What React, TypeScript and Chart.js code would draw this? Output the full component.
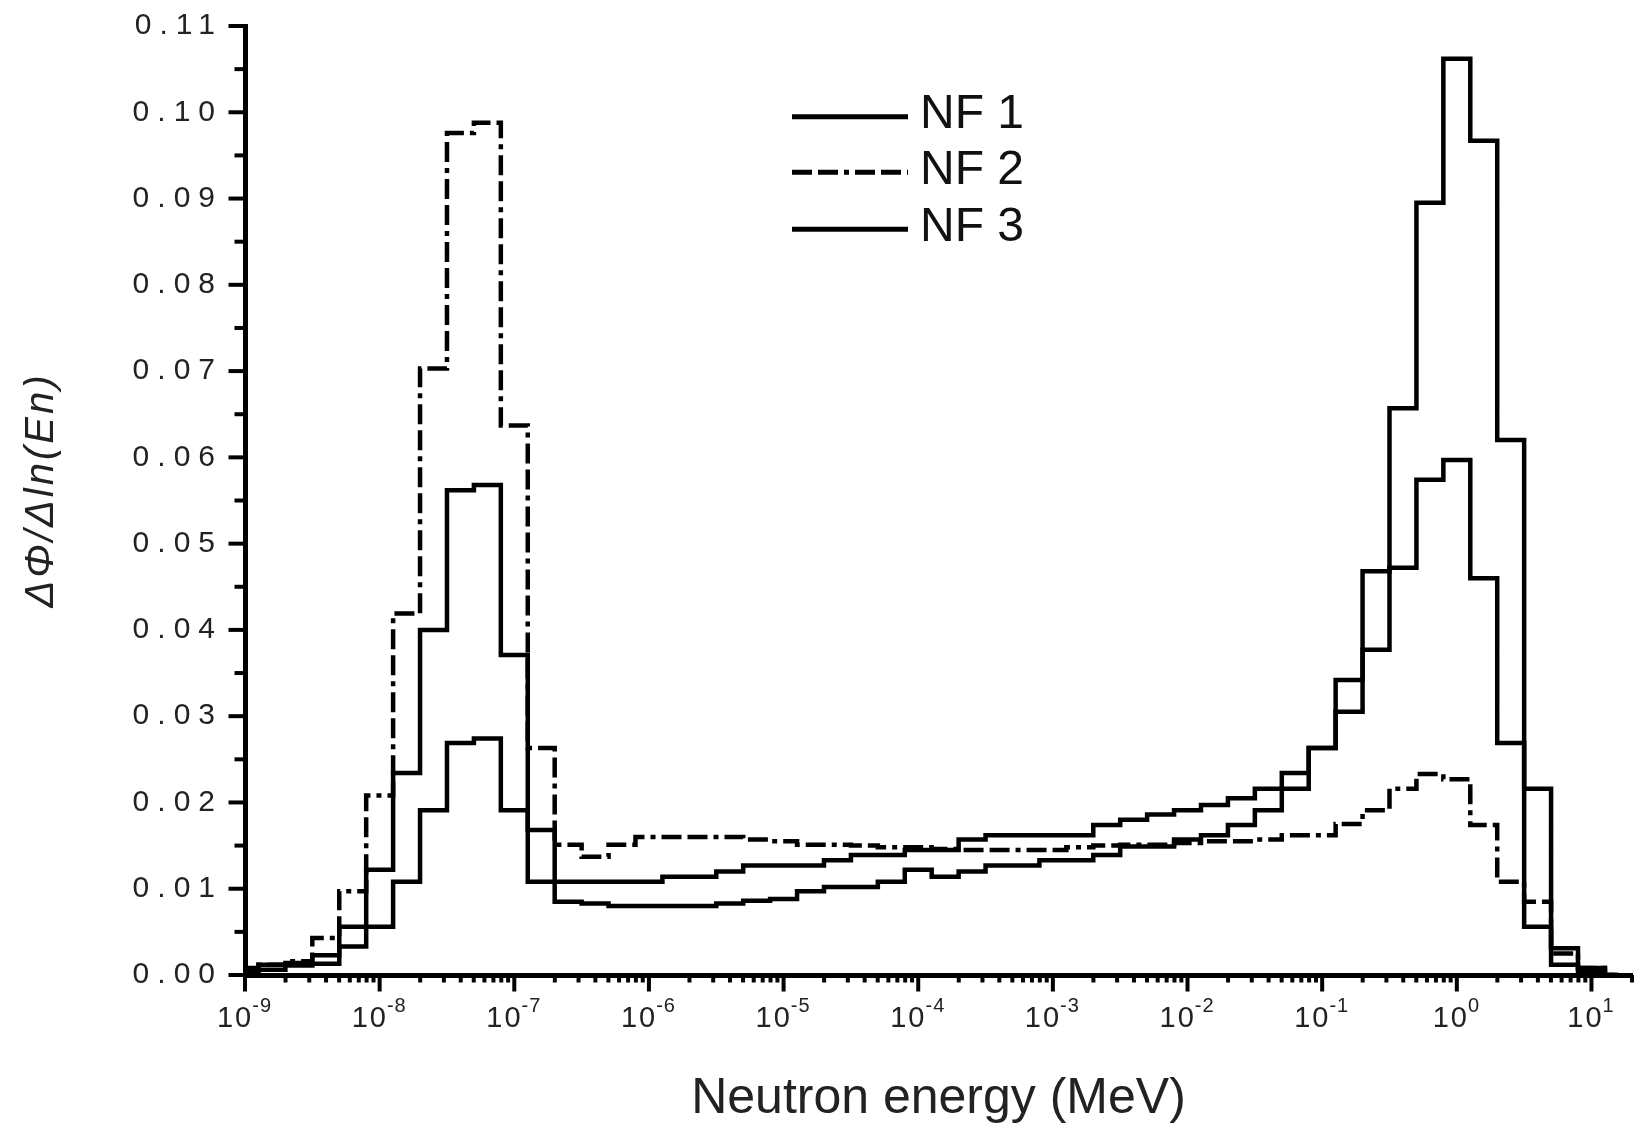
import { useEffect, useRef } from 'react';
import { Chart, registerables } from 'chart.js';

Chart.register(...registerables);

// Bin centres (MeV), 5 per decade
const ENERGY = [
  1e-9, 1.585e-9, 2.512e-9, 3.981e-9, 6.31e-9,
  1e-8, 1.585e-8, 2.512e-8, 3.981e-8, 6.31e-8,
  1e-7, 1.585e-7, 2.512e-7, 3.981e-7, 6.31e-7,
  1e-6, 1.585e-6, 2.512e-6, 3.981e-6, 6.31e-6,
  1e-5, 1.585e-5, 2.512e-5, 3.981e-5, 6.31e-5,
  1e-4, 1.585e-4, 2.512e-4, 3.981e-4, 6.31e-4,
  1e-3, 1.585e-3, 2.512e-3, 3.981e-3, 6.31e-3,
  1e-2, 1.585e-2, 2.512e-2, 3.981e-2, 6.31e-2,
  1e-1, 1.585e-1, 2.512e-1, 3.981e-1, 6.31e-1,
  1, 1.585, 2.512, 3.981, 6.31,
  10, 15.85,
];

const NF1 = [
  0.0005, 0.0012, 0.0014, 0.0023, 0.0056,
  0.0122, 0.0234, 0.0400, 0.0562, 0.0568,
  0.0371, 0.0108, 0.0108, 0.0108, 0.0108,
  0.0108, 0.0114, 0.0114, 0.0120, 0.0127,
  0.0127, 0.0127, 0.0133, 0.0139, 0.0139,
  0.0145, 0.0145, 0.0157, 0.0162, 0.0162,
  0.0162, 0.0162, 0.0174, 0.0180, 0.0186,
  0.0191, 0.0197, 0.0205, 0.0216, 0.0234,
  0.0263, 0.0342, 0.0468, 0.0657, 0.0895,
  0.1062, 0.0967, 0.0620, 0.0216, 0.0031,
  0.0008, 0,
];

const NF2 = [
  0.0008, 0.0012, 0.0016, 0.0043, 0.0097,
  0.0208, 0.0419, 0.0703, 0.0976, 0.0988,
  0.0637, 0.0263, 0.0151, 0.0137, 0.0151,
  0.0160, 0.0160, 0.0160, 0.0160, 0.0157,
  0.0155, 0.0151, 0.0151, 0.0150, 0.0148,
  0.0148, 0.0146, 0.0145, 0.0145, 0.0145,
  0.0145, 0.0148, 0.0150, 0.0151, 0.0151,
  0.0153, 0.0155, 0.0155, 0.0157, 0.0162,
  0.0162, 0.0175, 0.0191, 0.0216, 0.0233,
  0.0227, 0.0174, 0.0108, 0.0085, 0.0025,
  0.0008, 0,
];

const NF3 = [
  0.0003, 0.0006, 0.0011, 0.0013, 0.0033,
  0.0056, 0.0108, 0.0191, 0.0269, 0.0274,
  0.0191, 0.0168, 0.0085, 0.0083, 0.0080,
  0.0080, 0.0080, 0.0080, 0.0083, 0.0086,
  0.0088, 0.0097, 0.0102, 0.0102, 0.0108,
  0.0122, 0.0114, 0.0120, 0.0127, 0.0127,
  0.0133, 0.0133, 0.0139, 0.0149, 0.0149,
  0.0157, 0.0162, 0.0174, 0.0191, 0.0216,
  0.0263, 0.0305, 0.0377, 0.0472, 0.0574,
  0.0597, 0.0460, 0.0269, 0.0056, 0.0012,
  0.0005, 0,
];

const SERIES_LABELS = ['NF 1', 'NF 2', 'NF 3'];
const Y_TICKS = [0, 0.01, 0.02, 0.03, 0.04, 0.05, 0.06, 0.07, 0.08, 0.09, 0.10, 0.11];
const X_DECADES = [-9, -8, -7, -6, -5, -4, -3, -2, -1, 0, 1];
const X_MIN = 1e-9;
const X_MAX = 20;
const X_TITLE = 'Neutron energy (MeV)';
const Y_TITLE = 'ΔΦ/Δln(En)';

const FONT = '"Liberation Sans", Arial, Helvetica, sans-serif';
const DASH_DOT = [20, 6, 20, 6, 5, 6];

const setLS = (ctx: any, v: string) => {
  try { ctx.letterSpacing = v; } catch (e) { /* ignore */ }
};

const decor = {
  id: 'decor',
  beforeDraw(chart: any) {
    setLS(chart.ctx, '8px');
  },
  afterDraw(chart: any) {
    const ctx = chart.ctx as CanvasRenderingContext2D;
    const a = chart.chartArea;
    const xs = chart.scales.x;
    const ys = chart.scales.y;
    ctx.save();
    setLS(ctx, '0px');
    ctx.strokeStyle = '#000';
    ctx.fillStyle = '#000';
    ctx.lineCap = 'butt';
    ctx.lineWidth = 4;

    // y ticks (major + minor)
    const yEdge = a.left - 2.5;
    Y_TICKS.forEach((v, i) => {
      const y = ys.getPixelForValue(v);
      ctx.beginPath();
      ctx.moveTo(yEdge - 14, y);
      ctx.lineTo(a.left, y);
      ctx.stroke();
      if (i < Y_TICKS.length - 1) {
        const m = (v + Y_TICKS[i + 1]) / 2;
        const ym = ys.getPixelForValue(m);
        ctx.beginPath();
        ctx.moveTo(yEdge - 8, ym);
        ctx.lineTo(a.left, ym);
        ctx.stroke();
      }
    });

    // x ticks (major + minor)
    const xEdge = a.bottom + 2.5;
    X_DECADES.forEach((d) => {
      const base = Math.pow(10, d);
      const x = xs.getPixelForValue(base);
      ctx.beginPath();
      ctx.moveTo(x, a.bottom);
      ctx.lineTo(x, xEdge + 14);
      ctx.stroke();
      for (let m = 2; m <= 9; m++) {
        const v = m * base;
        if (v > X_MAX) break;
        const xm = xs.getPixelForValue(v);
        ctx.beginPath();
        ctx.moveTo(xm, a.bottom);
        ctx.lineTo(xm, xEdge + 5);
        ctx.stroke();
      }
    });

    // x labels 10^n
    ctx.fillStyle = '#222';
    ctx.textBaseline = 'alphabetic';
    ctx.textAlign = 'left';
    X_DECADES.forEach((d) => {
      const x = xs.getPixelForValue(Math.pow(10, d));
      ctx.font = `29px ${FONT}`;
      setLS(ctx, '2px');
      const wb = ctx.measureText('10').width;
      ctx.font = `20px ${FONT}`;
      setLS(ctx, '1px');
      const sup = String(d);
      const ws = ctx.measureText(sup).width;
      const start = x - (wb + ws) / 2;
      ctx.font = `29px ${FONT}`;
      setLS(ctx, '2px');
      ctx.fillText('10', start, a.bottom + 52);
      ctx.font = `20px ${FONT}`;
      setLS(ctx, '1px');
      ctx.fillText(sup, start + wb - 1, a.bottom + 37);
    });
    setLS(ctx, '0px');

    // x title
    ctx.fillStyle = '#222';
    ctx.font = `50px ${FONT}`;
    ctx.textAlign = 'center';
    ctx.fillText(X_TITLE, (a.left + a.right) / 2, a.bottom + 138);

    // y title
    ctx.save();
    ctx.translate(a.left - 203, a.top + 464);
    ctx.rotate(-Math.PI / 2);
    ctx.font = `italic 40px ${FONT}`;
    setLS(ctx, '3px');
    ctx.textAlign = 'center';
    ctx.textBaseline = 'middle';
    ctx.fillText(Y_TITLE, 0, 0);
    ctx.restore();

    // legend
    const rowsY = [116.7, 172.3, 229.3];
    const lx0 = 792;
    const lx1 = 908;
    chart.data.datasets.forEach((ds: any, i: number) => {
      const y = rowsY[i];
      ctx.save();
      ctx.strokeStyle = '#000';
      ctx.lineWidth = 5;
      ctx.setLineDash(ds.borderDash || []);
      ctx.beginPath();
      ctx.moveTo(lx0, y);
      ctx.lineTo(lx1, y);
      ctx.stroke();
      ctx.restore();
      ctx.fillStyle = '#111';
      ctx.font = `48px ${FONT}`;
      ctx.textAlign = 'left';
      ctx.textBaseline = 'alphabetic';
      ctx.fillText(ds.label, 920, y + 11.5);
    });

    ctx.restore();
  },
};

export default function App() {
  const ref = useRef<HTMLCanvasElement | null>(null);

  useEffect(() => {
    if (!ref.current) return;
    const mk = (vals: number[]) => ENERGY.map((x, i) => ({ x, y: vals[i] }));
    const common = {
      borderColor: '#000',
      backgroundColor: '#000',
      borderWidth: 4.5,
      pointRadius: 0,
      pointHoverRadius: 0,
      stepped: 'middle' as const,
      fill: false,
      borderJoinStyle: 'miter' as const,
      borderCapStyle: 'butt' as const,
    };
    const chart = new Chart(ref.current, {
      type: 'line',
      data: {
        datasets: [
          { ...common, label: SERIES_LABELS[0], data: mk(NF1) },
          { ...common, label: SERIES_LABELS[1], data: mk(NF2), borderDash: DASH_DOT },
          { ...common, label: SERIES_LABELS[2], data: mk(NF3) },
        ],
      },
      options: {
        animation: false,
        responsive: false,
        devicePixelRatio: 1,
        events: [],
        layout: { padding: { top: 26, right: 2, left: 0, bottom: 0 } },
        plugins: {
          legend: { display: false },
          tooltip: { enabled: false },
          title: { display: false },
        },
        scales: {
          x: {
            type: 'logarithmic',
            min: X_MIN,
            max: X_MAX,
            grid: { display: false, drawTicks: false },
            border: { display: true, width: 5, color: '#000' },
            ticks: { display: false },
            afterBuildTicks: (s: any) => {
              s.ticks = X_DECADES.map((d) => ({ value: Math.pow(10, d) }));
            },
            afterFit: (s: any) => {
              s.height = 150;
            },
          },
          y: {
            type: 'linear',
            min: 0,
            max: 0.11,
            grid: {
              display: true,
              drawOnChartArea: false,
              drawTicks: true,
              tickLength: 22,
              tickColor: 'rgba(0,0,0,0)',
              color: 'rgba(0,0,0,0)',
            },
            border: { display: true, width: 5, color: '#000' },
            afterBuildTicks: (s: any) => {
              s.ticks = Y_TICKS.map((v) => ({ value: v }));
            },
            ticks: {
              padding: 0,
              color: '#222',
              font: { size: 30, family: FONT },
              autoSkip: false,
              callback: (v: any) => Number(v).toFixed(2),
            },
            afterFit: (s: any) => {
              s.width = 245;
            },
          },
        },
      },
      plugins: [decor],
    });
    return () => chart.destroy();
  }, []);

  return (
    <div style={{ position: 'fixed', left: 0, top: 0, width: 1634, height: 1125, background: '#fff' }}>
      <canvas ref={ref} width={1634} height={1125} style={{ display: 'block', width: 1634, height: 1125 }} />
    </div>
  );
}
